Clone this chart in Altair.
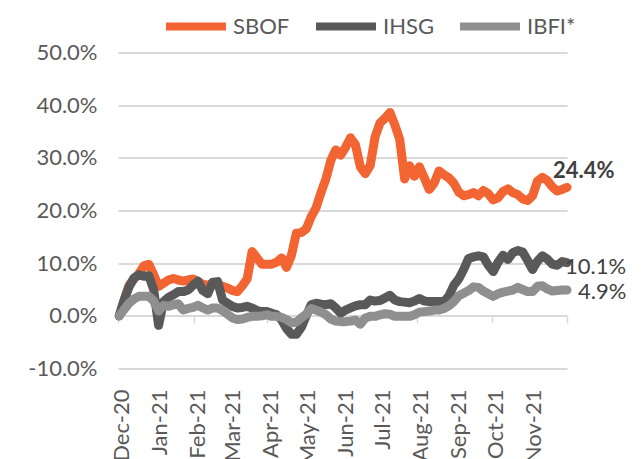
import altair as alt
import pandas as pd

# sampling dates (every 4 days, Dec 2 2020 .. Dec 1 2021)
dates = pd.date_range("2020-12-02", periods=92, freq="4D").strftime("%Y-%m-%d").tolist()

series_names = ["SBOF", "IHSG", "IBFI*"]
series_colors = ["#F26532", "#595959", "#8F8F8F"]

sbof = [0.0, 3.0, 5.8, 7.0, 8.0, 9.5, 9.8, 7.8, 5.6, 6.2, 6.8, 7.1, 6.8, 6.6, 6.8, 7.0,
        6.5, 6.0, 5.8, 6.2, 6.0, 5.6, 5.3, 4.8, 4.6, 5.7, 7.0, 12.2, 11.0, 9.8, 9.8, 9.8,
        10.2, 11.0, 9.2, 11.5, 15.7, 15.8, 16.5, 18.8, 20.5, 23.4, 26.0, 29.5, 31.5, 30.5,
        32.0, 33.8, 32.5, 28.3, 27.0, 28.5, 34.0, 36.6, 37.5, 38.6, 36.3, 33.5, 26.0, 28.5,
        26.5, 28.3, 26.2, 24.0, 25.2, 27.5, 26.8, 26.2, 25.2, 23.5, 22.8, 23.0, 23.4, 22.8,
        23.8, 23.2, 22.0, 22.4, 23.6, 24.1, 23.4, 23.0, 22.2, 21.9, 22.8, 25.6, 26.3, 25.7,
        24.5, 23.7, 24.0, 24.4]

ihsg = [0.0, 3.0, 5.5, 7.2, 7.8, 7.5, 7.6, 5.0, -1.8, 2.7, 3.5, 4.0, 4.6, 4.6, 4.9, 5.8,
        6.6, 4.8, 4.2, 6.4, 6.5, 3.0, 2.4, 1.8, 1.5, 1.6, 1.8, 1.5, 1.0, 0.8, 0.8, 0.5,
        0.2, -0.8, -2.4, -3.5, -3.5, -2.2, 0.0, 2.1, 2.4, 2.2, 2.1, 2.3, 1.5, 0.5,
        1.1, 1.5, 1.9, 2.1, 2.1, 3.0, 2.8, 2.9, 3.4, 3.9, 3.0, 2.7, 2.6, 2.5,
        2.8, 3.3, 2.8, 2.7, 2.7, 2.7, 2.7, 3.8, 5.8, 7.0, 8.8, 10.9, 11.2, 11.4,
        11.2, 9.6, 8.4, 10.2, 11.5, 10.7, 12.0, 12.4, 12.1, 10.5, 8.8, 10.4, 11.4, 10.8,
        9.8, 9.6, 10.3, 10.1]

ibfi = [0.0, 1.2, 2.4, 3.2, 3.7, 3.7, 3.7, 2.8, 0.9, 2.0, 1.8, 2.1, 2.3, 1.1, 1.4, 1.6,
        2.0, 1.5, 1.1, 1.5, 1.5, 1.0, 0.3, -0.4, -0.7, -0.6, -0.3, -0.1, -0.1, 0.0, 0.2, -0.1,
        -0.1, -0.3, -0.7, -1.3, -1.2, -0.4, 0.3, 1.4, 1.1, 0.7, 0.2, -0.6, -1.0, -1.1,
        -1.1, -1.0, -0.8, -1.6, -0.4, -0.1, -0.1, 0.2, 0.4, 0.3, -0.1, -0.1, -0.1, -0.1,
        0.2, 0.7, 0.8, 0.9, 1.1, 1.1, 1.4, 1.9, 2.7, 3.8, 4.3, 4.8, 5.5, 5.4,
        4.7, 4.2, 3.7, 4.2, 4.5, 4.7, 4.9, 5.4, 5.0, 4.6, 4.6, 5.6, 5.7, 5.1,
        4.7, 4.8, 4.9, 4.9]

y_ticks = [-10, 0, 10, 20, 30, 40, 50]
month_ticks = ["2020-12-01", "2021-01-01", "2021-02-01", "2021-03-01", "2021-04-01",
               "2021-05-01", "2021-06-01", "2021-07-01", "2021-08-01", "2021-09-01",
               "2021-10-01", "2021-11-01", "2021-12-01"]
month_labels = ["Dec-20", "Jan-21", "Feb-21", "Mar-21", "Apr-21", "May-21",
                "Jun-21", "Jul-21", "Aug-21", "Sep-21", "Oct-21", "Nov-21"]
month_ms = [int(pd.Timestamp(d, tz="UTC").value // 10**6) for d in month_ticks]

FONT = "Lato"
df = pd.DataFrame({
    "date": dates * 3,
    "series": [series_names[0]] * len(dates) + [series_names[1]] * len(dates) + [series_names[2]] * len(dates),
    "value": sbof + ihsg + ibfi,
})
last_vals = [sbof[-1], ihsg[-1], ibfi[-1]]
lab_df = pd.DataFrame({
    "date": [dates[-1]] * 3,
    "series": series_names,
    "value": last_vals,
    "label": [f"{v:.1f}%" for v in last_vals],
})
month_df = pd.DataFrame({
    "date": month_ticks[:-1],
    "label": month_labels,
    "value": [y_ticks[0]] * len(month_labels),
})

x_scale = alt.Scale(type="utc", domain=["2020-12-01", "2021-12-01"], nice=False)
x_enc = alt.X(
    "date:T",
    scale=x_scale,
    axis=alt.Axis(
        values=month_ms, labels=False, offset=-52.7,
        domain=False, ticks=True, tickSize=7, tickColor="#D9D9D9", tickWidth=1.5,
        grid=False, title=None,
    ),
)
y_scale = alt.Scale(domain=[-10, 50], nice=False, zero=False)
y_enc = alt.Y(
    "value:Q",
    scale=y_scale,
    axis=alt.Axis(
        values=y_ticks,
        labelExpr="(datum.value < 0 ? '-' : '') + format(abs(datum.value), '.1f') + '%'",
        domain=False, ticks=False, grid=True, gridColor="#D9D9D9", gridWidth=1.8,
        labelPadding=21, labelFontSize=22, labelColor="#595959", labelFont=FONT, title=None,
    ),
)
color_enc = alt.Color(
    "series:N",
    scale=alt.Scale(domain=series_names, range=series_colors),
    legend=alt.Legend(
        orient="none", legendX=44, legendY=-60, direction="horizontal", title=None,
        symbolType="stroke", symbolSize=3600, symbolStrokeWidth=8,
        labelFontSize=22, labelFont=FONT, labelColor="#595959",
        labelOffset=3, columnPadding=10, padding=0,
    ),
)

base = alt.Chart(df)
lines = [
    base.transform_filter(alt.datum.series == s)
    .mark_line(strokeWidth=9, strokeCap="round", strokeJoin="round")
    .encode(x=x_enc, y=y_enc, color=color_enc)
    for s in series_names
]

label_style = [
    dict(dx=-14, dy=-16, fontWeight="bold"),
    dict(dx=-2, dy=4, fontWeight="normal"),
    dict(dx=11, dy=2, fontWeight="normal"),
]
texts = [
    alt.Chart(lab_df).transform_filter(alt.datum.series == s)
    .mark_text(align="left", baseline="middle", font=FONT, fontSize=22, color="#404040", **st)
    .encode(x="date:T", y="value:Q", text="label:N")
    for s, st in zip(series_names, label_style)
]

month_text = alt.Chart(month_df).mark_text(
    angle=270, align="right", baseline="middle", dx=-21, dy=4,
    font=FONT, fontSize=22, color="#595959",
).encode(x=alt.X("date:T", scale=x_scale), y=alt.Y("value:Q", scale=y_scale), text="label:N")

chart = alt.layer(*lines, *texts, month_text).properties(
    width=449, height=316,
    autosize=alt.AutoSizeParams(type="none"),
    padding={"left": 110, "top": 44.5, "right": 68, "bottom": 100},
    background="white",
).configure_view(stroke=None)

chart.save("out.html", embed_options={"renderer": "svg", "actions": False})
